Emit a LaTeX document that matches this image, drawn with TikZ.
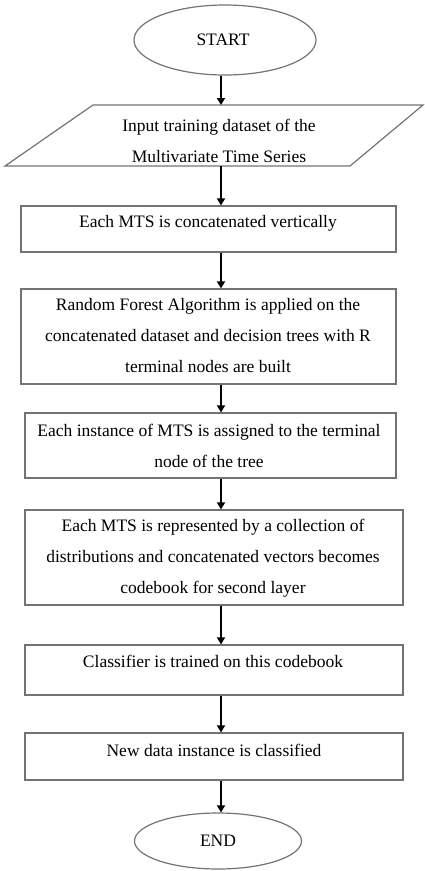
\documentclass[tikz,border=0pt]{standalone}
\usepackage{fontspec}
\setmainfont{Liberation Serif}
\usetikzlibrary{shapes.geometric,arrows.meta}
\begin{document}
\begin{tikzpicture}[x=1pt,y=-1pt,
  shp/.style={draw=black!55,line width=1.2pt},
  boxs/.style={shp,rectangle,inner sep=0pt},
  oval/.style={shp,ellipse,inner sep=0pt},
  txt/.style={align=center,font=\fontsize{17.5}{31}\selectfont,inner sep=0pt},
  arr/.style={draw=black,line width=2pt,-{Triangle[length=7pt,width=8pt]}}]
\useasboundingbox (0,0) rectangle (424,871);
\coordinate (ax) at (221,0);
% START
\node[oval,minimum width=182pt,minimum height=70pt] (start) at (225,40) {};
\node[txt] (tstart) at (223,40) {START};
% parallelogram
\draw[shp] (93,105) -- (423,105) -- (350,166) -- (5,166) -- cycle;
\coordinate (pin) at (221,105);
\coordinate (pout) at (221,166);
\node[txt] (tin) at (219,141) {Input training dataset of the\\Multivariate Time Series};
% boxes
\node[boxs,minimum width=375pt,minimum height=46pt] (b2) at (208.5,229) {};
\node[txt] at (208,223) {Each MTS is concatenated vertically};
\node[boxs,minimum width=375pt,minimum height=95pt] (b3) at (208.5,336.5) {};
\node[txt] at (208,336) {Random Forest Algorithm is applied on the\\concatenated dataset and decision trees with R\\terminal nodes are built};
\node[boxs,minimum width=371pt,minimum height=65pt] (b4) at (210.5,445.5) {};
\node[txt] at (209,446) {Each instance of MTS is assigned to the terminal\\node of the tree};
\node[boxs,minimum width=378pt,minimum height=95pt] (b5) at (214,557.5) {};
\node[txt] at (213,558) {Each MTS is represented by a collection of\\distributions and concatenated vectors becomes\\codebook for second layer};
\node[boxs,minimum width=378pt,minimum height=50pt] (b6) at (214,670) {};
\node[txt] at (213,661) {Classifier is trained on this codebook};
\node[boxs,minimum width=378pt,minimum height=47pt] (b7) at (214,756.5) {};
\node[txt] at (214,750) {New data instance is classified};
% END
\node[oval,minimum width=167pt,minimum height=56pt] (end) at (218,841) {};
\node[txt] (tend) at (218,841) {END};
% arrows
\draw[arr] (start.south -| ax) -- (pin);
\draw[arr] (pout) -- (b2.north -| ax);
\draw[arr] (b2.south -| ax) -- (b3.north -| ax);
\draw[arr] (b3.south -| ax) -- (b4.north -| ax);
\draw[arr] (b4.south -| ax) -- (b5.north -| ax);
\draw[arr] (b5.south -| ax) -- (b6.north -| ax);
\draw[arr] (b6.south -| ax) -- (b7.north -| ax);
\draw[arr] (b7.south -| ax) -- (end.north -| ax);
\end{tikzpicture}
\end{document}
